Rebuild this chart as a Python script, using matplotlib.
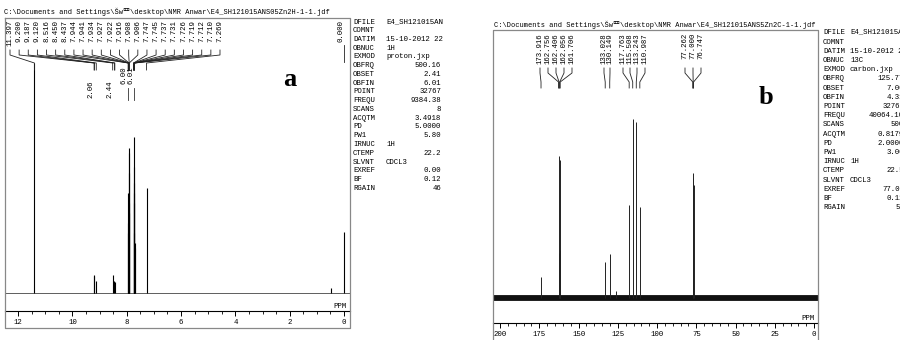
import matplotlib
matplotlib.use("Agg")
import matplotlib.pyplot as plt
from matplotlib.lines import Line2D
from matplotlib.ticker import MultipleLocator

plt.rcParams['font.family'] = ['Liberation Mono', 'Noto Sans CJK JP', 'DejaVu Sans']

# ---- data: 1H spectrum (a) ----
h_ppm = [11.397, 9.200, 9.187, 9.120, 8.516, 8.450, 8.437, 7.944, 7.941, 7.934,
         7.927, 7.922, 7.916, 7.908, 7.906, 7.747, 7.745, 7.737, 7.731, 7.726,
         7.719, 7.712, 7.710, 7.269, 0.000]
h_int = [230, 18, 17, 12, 18, 12, 11, 60, 70, 100,
         145, 140, 120, 90, 80, 100, 156, 126, 110, 90,
         60, 50, 45, 105, 61]
h_extra_ppm = [0.48]
h_extra_int = [5]
h_integrals = ['2.06', '2.44', '6.00', '6.01']

# ---- data: 13C spectrum (b) ----
c_ppm = [173.916, 162.756, 162.406, 162.056, 161.706, 133.028, 130.149,
         117.763, 115.508, 113.243, 110.987, 77.262, 77.000, 76.747]
c_int = [21, 45, 142, 138, 48, 36, 44, 93, 179, 176, 91, 120, 125, 113]
c_extra_ppm = [126.0]
c_extra_int = [7]

par_keys = ['DFILE', 'COMNT', 'DATIM', 'OBNUC', 'EXMOD', 'OBFRQ', 'OBSET', 'OBFIN',
            'POINT', 'FREQU', 'SCANS', 'ACQTM', 'PD', 'PW1', 'IRNUC', 'CTEMP',
            'SLVNT', 'EXREF', 'BF', 'RGAIN']
par_a = ['E4_SH121015AN', '', '15-10-2012 22', '1H', 'proton.jxp', '500.16', '2.41',
         '6.01', '32767', '9384.38', '8', '3.4918', '5.0000', '5.80', '1H', '22.2',
         'CDCL3', '0.00', '0.12', '46']
par_b = ['E4_SH121015ANS5Zn2C-1-1.jdf', '', '15-10-2012 22:41:05', '13C', 'carbon.jxp',
         '125.77', '7.00', '4.31', '32768', '40064.10', '500', '0.8179', '2.0000',
         '3.00', '1H', '22.5', 'CDCL3', '77.00', '0.12', '50']
left_keys = {'DFILE', 'COMNT', 'DATIM', 'OBNUC', 'EXMOD', 'IRNUC', 'SLVNT'}

head_a = 'C:\\Documents and Settings\\Šw罒\\desktop\\NMR Anwar\\E4_SH121015ANS05Zn2H-1-1.jdf'
head_b = 'C:\\Documents and Settings\\Šw罒\\desktop\\NMR Anwar\\E4_SH121015ANS5Zn2C-1-1.jdf'

W, H = 900, 340
fig = plt.figure(figsize=(9, 3.4), dpi=100)
fs = 5.3


def fx(x):
    return x / W


def fy(y):
    return 1 - y / H


def line(xs, ys, **kw):
    fig.add_artist(Line2D([fx(x) for x in xs], [fy(y) for y in ys],
                          transform=fig.transFigure, **kw))


def txt(x, y, s, **kw):
    kw.setdefault('fontsize', fs)
    fig.text(fx(x), fy(y), s, **kw)


def spectrum_axes(left, right, top, bottom, xlim, ylim, major, minor):
    ax = fig.add_axes([fx(left), fy(bottom), (right - left) / W, (bottom - top) / H])
    ax.set_xlim(*xlim)
    ax.set_ylim(*ylim)
    ax.patch.set_alpha(0)
    for s in ['top', 'left', 'right']:
        ax.spines[s].set_visible(False)
    ax.spines['bottom'].set_linewidth(0.8)
    ax.set_yticks([])
    ax.xaxis.set_major_locator(MultipleLocator(major))
    ax.xaxis.set_minor_locator(MultipleLocator(minor))
    ax.tick_params(axis='x', which='major', direction='out', length=3.6, width=0.7,
                   labelsize=fs, pad=2)
    ax.tick_params(axis='x', which='minor', direction='out', length=2, width=0.6)
    return ax


def xpix(ax, ppm):
    return ax.transData.transform((ppm, 0))[0]


def connectors(ax, ppms, label_x, ys, color='#222'):
    for p, lx in zip(ppms, label_x):
        px = xpix(ax, p)
        line([lx, lx, px, px], ys, lw=0.6, color=color)


# ---------- panel a ----------
ax_a = spectrum_axes(5, 350, 18, 311, (12.48, -0.22), (-18, 275), 2, 0.5)
ax_a.set_xticklabels([f'{int(v)}' if v >= 0 else '' for v in ax_a.get_xticks()])
ax_a.axhline(0, lw=0.6, color='#444')
ax_a.vlines(h_ppm, 0, h_int, lw=0.8, color='black')
ax_a.vlines(h_extra_ppm, 0, h_extra_int, lw=0.8, color='black')

line([5, 350, 350, 5, 5], [18, 18, 328, 328, 18], lw=0.9, color='#888')
txt(4, 12, head_a, fontsize=5, va='center')
txt(340, 306, 'PPM', ha='center', va='center')

lab_a = [f'{p:.3f}' for p in h_ppm[:-1]]
lab_ax = [10 + 9.13 * i for i in range(len(lab_a))]
for lx, s in zip(lab_ax, lab_a):
    txt(lx, 20, s, rotation=90, ha='center', va='top')
connectors(ax_a, h_ppm[:-1], lab_ax, [50, 55, 63, 70])
tx0 = xpix(ax_a, h_ppm[-1])
txt(tx0 - 3, 20, f'{h_ppm[-1]:.3f}', rotation=90, ha='center', va='top')
line([tx0, tx0], [45, 62], lw=0.6, color='#222')

for x, y, s in zip([91, 110, 124, 131], [80, 80, 66, 66], h_integrals):
    txt(x, y, s, rotation=90, ha='center', va='top')
line([128, 128], [88, 100], lw=0.6, color='#333')
line([134, 134], [88, 100], lw=0.6, color='#333')
txt(290, 80, 'a', fontsize=19, fontweight='bold', family='Liberation Serif',
    ha='center', va='center')

for i, (k, v) in enumerate(zip(par_keys, par_a)):
    y = 22 + 8.75 * i
    txt(353, y, k, va='center')
    if k in left_keys:
        txt(386, y, v, va='center')
    else:
        txt(441, y, v, va='center', ha='right')

# ---------- panel b ----------
ax_b = spectrum_axes(493, 818, 30, 323, (204.5, -2.5), (-25, 268), 25, 5)
ax_b.set_xticklabels([f'{int(v)}' if 0 <= v <= 200 else '' for v in ax_b.get_xticks()])
ax_b.axhline(0, lw=4.2, color='#111')
ax_b.vlines(c_ppm, 0, c_int, lw=0.7, color='#222')
ax_b.vlines(c_extra_ppm, 0, c_extra_int, lw=0.7, color='#222')

line([493, 493, 818, 818], [345, 30, 30, 345], lw=0.9, color='#888')
txt(494, 25, head_b, fontsize=5, va='center')
txt(808, 318, 'PPM', ha='center', va='center')

lab_bx = [540, 548, 556, 564, 572, 604, 610, 623, 630, 637, 645, 685, 693, 701]
for lx, p in zip(lab_bx, c_ppm):
    txt(lx, 33, f'{p:.3f}', rotation=90, ha='center', va='top')
connectors(ax_b, c_ppm, lab_bx, [68, 73, 82, 88])
txt(766, 98, 'b', fontsize=19, fontweight='bold', family='Liberation Serif',
    ha='center', va='center')

for i, (k, v) in enumerate(zip(par_keys, par_b)):
    y = 33 + 9.2 * i
    txt(823, y, k, va='center')
    if k in left_keys:
        txt(850, y, v, va='center')
    else:
        txt(904, y, v, va='center', ha='right')

fig.savefig('out.png', dpi=100)
